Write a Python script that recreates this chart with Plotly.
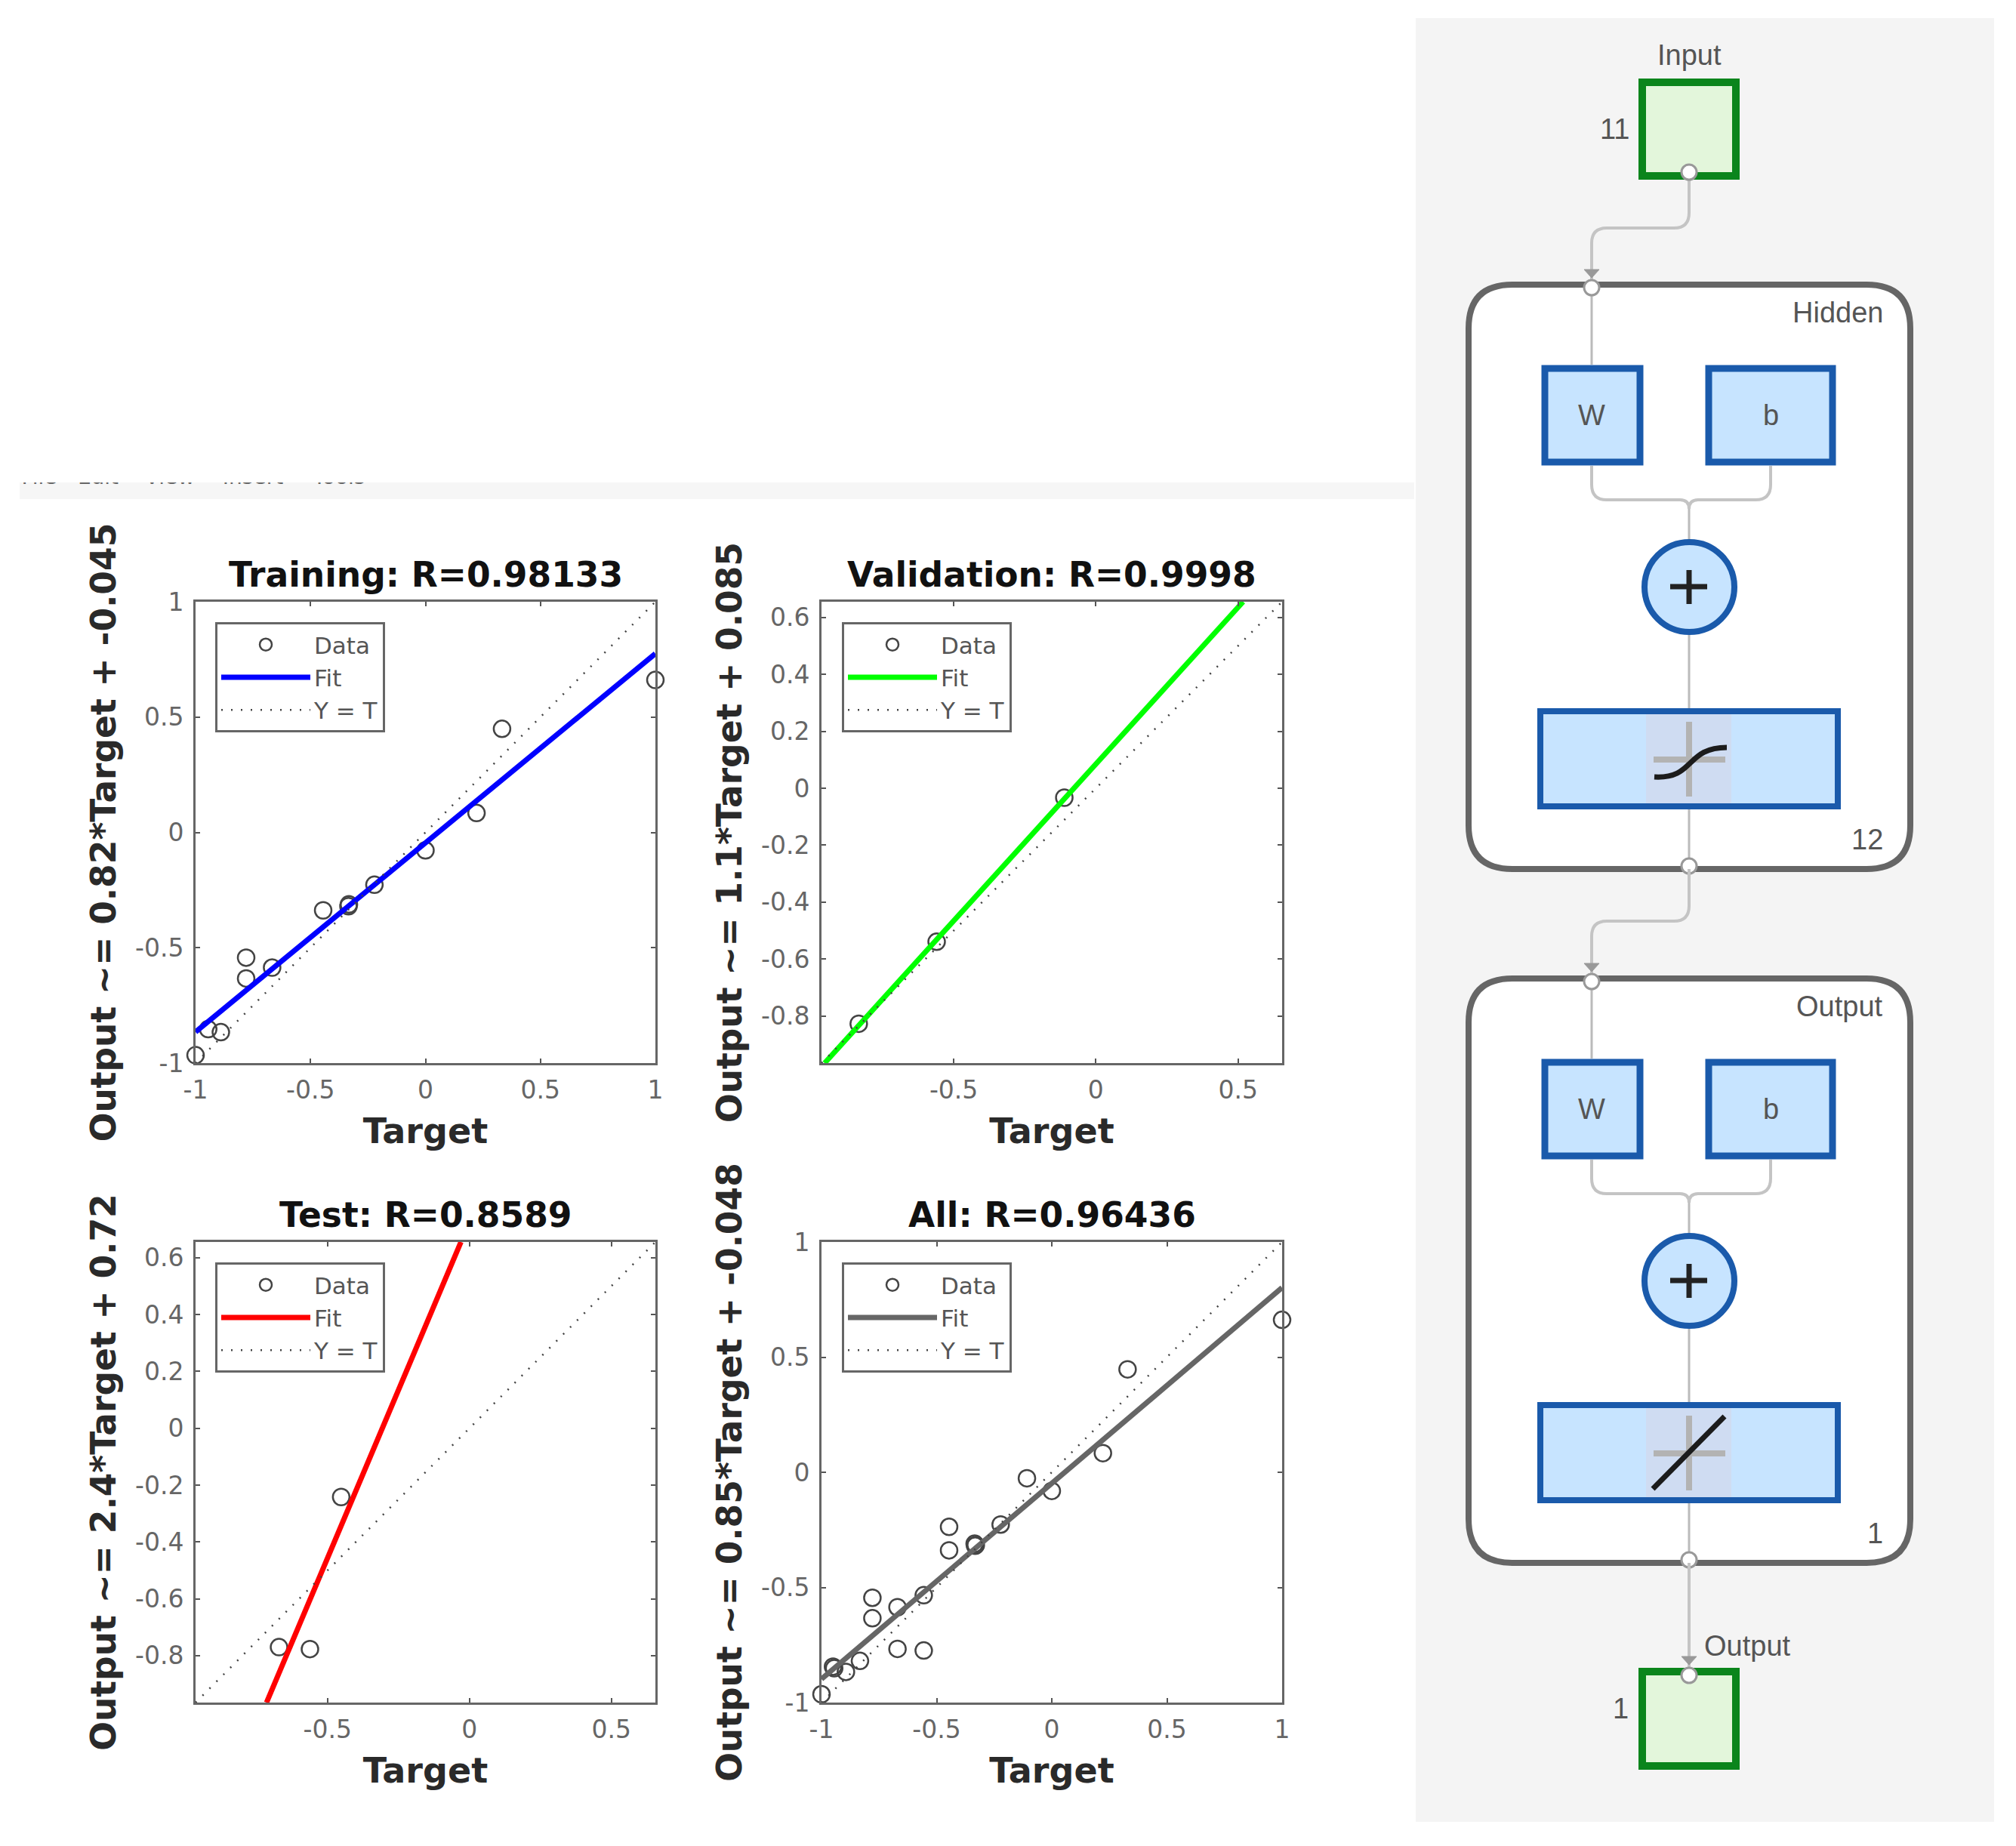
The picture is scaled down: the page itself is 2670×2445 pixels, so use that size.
"""Regression plots next to the network diagram, drawn on one Plotly page."""

import plotly.graph_objects as go

WIDTH, HEIGHT = 2670, 2445

AXIS_FONT = "DejaVu Sans"
DIAGRAM_FONT = "Liberation Sans"

# regression panels
titles = ["Training: R=0.98133", "Validation: R=0.9998", "Test: R=0.8589", "All: R=0.96436"]
y_titles = [
    "Output ~= 0.82*Target + -0.045",
    "Output ~= 1.1*Target + 0.085",
    "Output ~= 2.4*Target + 0.72",
    "Output ~= 0.85*Target + -0.048",
]
fit_colors = ["#0000ff", "#00ff00", "#ff0000", "#666666"]

train_x = [-1, -0.945, -0.89, -0.78, -0.78, -0.667, -0.445, -0.335, -0.333, -0.222, 0, 0.222, 0.333, 1]
train_y = [-0.966, -0.853, -0.866, -0.543, -0.633, -0.586, -0.338, -0.32, -0.312, -0.227, -0.078, 0.084, 0.449, 0.661]
train_fit_x = [-1, 1]
train_fit_y = [-0.865, 0.775]

val_x = [-0.834, -0.56, -0.111]
val_y = [-0.827, -0.539, -0.033]
val_fit_x = [-0.954, 0.518]
val_fit_y = [-0.965, 0.655]

test_x = [-0.671, -0.562, -0.452]
test_y = [-0.77, -0.777, -0.242]
test_fit_x = [-0.715, -0.03]
test_fit_y = [-0.965, 0.655]

all_x = [-1, -0.95, -0.945, -0.894, -0.833, -0.779, -0.779, -0.67, -0.67, -0.556, -0.556,
         -0.446, -0.446, -0.335, -0.333, -0.33, -0.222, -0.108, 0, 0.222, 0.329, 1]
all_y = [-0.964, -0.844, -0.851, -0.867, -0.819, -0.545, -0.634, -0.586, -0.767, -0.534, -0.774,
         -0.237, -0.339, -0.31, -0.319, -0.316, -0.227, -0.026, -0.081, 0.083, 0.447, 0.662]
all_fit_x = [-1, 1]
all_fit_y = [-0.898, 0.802]

full_range = [-1, 1]
part_range = [-0.965, 0.655]

wide_ticks = [-1, -0.5, 0, 0.5, 1]
wide_labels = ["-1", "-0.5", "0", "0.5", "1"]
part_x_ticks = [-0.5, 0, 0.5]
part_x_labels = ["-0.5", "0", "0.5"]
part_y_ticks = [-0.8, -0.6, -0.4, -0.2, 0, 0.2, 0.4, 0.6]
part_y_labels = ["-0.8", "-0.6", "-0.4", "-0.2", "0", "0.2", "0.4", "0.6"]

# menu strip, mostly cropped away in the screenshot
menu_items = ["File", "Edit", "View", "Insert", "Tools"]
menu_x = [52, 130, 225, 335, 449]

panels = [
    (train_x, train_y, train_fit_x, train_fit_y, full_range, wide_ticks, wide_labels, wide_ticks, wide_labels),
    (val_x, val_y, val_fit_x, val_fit_y, part_range, part_x_ticks, part_x_labels, part_y_ticks, part_y_labels),
    (test_x, test_y, test_fit_x, test_fit_y, part_range, part_x_ticks, part_x_labels, part_y_ticks, part_y_labels),
    (all_x, all_y, all_fit_x, all_fit_y, full_range, wide_ticks, wide_labels, wide_ticks, wide_labels),
]
# left, right, top, bottom in page pixels
boxes = [(259, 868, 797, 1408), (1088, 1698, 797, 1408), (259, 868, 1645, 2255), (1088, 1698, 1645, 2255)]
legend_corners = [(285, 824), (1115, 824), (285, 1672), (1115, 1672)]


def page_x(px):
    return px / WIDTH


def page_y(px):
    return 1 - px / HEIGHT


fig = go.Figure()
layout = {}

for i, (panel, box, corner) in enumerate(zip(panels, boxes, legend_corners)):
    xs, ys, fit_x, fit_y, rng, x_ticks, x_labels, y_ticks, y_labels = panel
    n = "" if i == 0 else str(i + 1)
    left, right, top, bottom = box
    group = "legend" + n

    fig.add_trace(go.Scatter(
        x=xs, y=ys, name="Data", mode="markers", xaxis="x" + n, yaxis="y" + n, legend=group,
        cliponaxis=False,
        marker=dict(symbol="circle-open", size=22, color="#444444", line=dict(color="#444444", width=2.5)),
    ))
    fig.add_trace(go.Scatter(
        x=fit_x, y=fit_y, name="Fit", mode="lines", xaxis="x" + n, yaxis="y" + n, legend=group,
        line=dict(color=fit_colors[i], width=7),
    ))
    fig.add_trace(go.Scatter(
        x=rng, y=rng, name="Y = T", mode="lines", xaxis="x" + n, yaxis="y" + n, legend=group,
        line=dict(color="#444444", width=2.5, dash="2px,11px"),
    ))

    common = dict(
        range=rng, showgrid=False, zeroline=False, showline=True, linecolor="#666666", linewidth=3,
        mirror="allticks", ticks="inside", ticklen=6, tickcolor="#555555", tickwidth=2,
        tickmode="array", automargin=False,
        tickfont=dict(family=AXIS_FONT, size=33, color="#666666"),
    )
    layout["xaxis" + n] = dict(
        common, domain=[page_x(left), page_x(right)], anchor="y" + n,
        tickvals=x_ticks, ticktext=x_labels, ticklabelstandoff=4,
        title=dict(text="Target", standoff=21, font=dict(family=AXIS_FONT, size=46, color="#2a2a2a", weight="bold")),
    )
    layout["yaxis" + n] = dict(
        common, domain=[page_y(bottom), page_y(top)], anchor="x" + n,
        tickvals=y_ticks, ticktext=y_labels, ticklabelstandoff=6,
        title=dict(text=y_titles[i], standoff=12, font=dict(family=AXIS_FONT, size=45.5, color="#2a2a2a", weight="bold")),
    )
    layout[group] = dict(
        x=page_x(corner[0]), y=page_y(corner[1]), xanchor="left", yanchor="top",
        bgcolor="white", bordercolor="#666666", borderwidth=3,
        itemwidth=118, itemclick=False, traceorder="normal",
        entrywidth=103, entrywidthmode="pixels",
        font=dict(family=AXIS_FONT, size=31, color="#555555"),
    )

# page sized axes for the diagram, and a clipped strip for the menu text
layout["xaxis5"] = dict(domain=[0, 1], range=[0, WIDTH], visible=False, anchor="y5")
layout["yaxis5"] = dict(domain=[0, 1], range=[HEIGHT, 0], visible=False, anchor="x5")
layout["xaxis6"] = dict(domain=[page_x(26), page_x(1873)], range=[26, 1873], visible=False, anchor="y6")
layout["yaxis6"] = dict(domain=[page_y(661), page_y(639)], range=[661, 639], visible=False, anchor="x6")

fig.add_trace(go.Scatter(
    x=menu_x, y=[634] * len(menu_items), text=menu_items, mode="text", xaxis="x6", yaxis="y6",
    showlegend=False, textposition="middle center",
    textfont=dict(family=AXIS_FONT, size=28, color="#666666"),
))

shapes = []
annotations = []

GREEN, GREEN_FILL = "#0b851c", "#e3f6db"
BLUE, BLUE_FILL = "#1a5aab", "#c7e4ff"
WIRE = "#c4c4c4"
IN_X, MID_X = 2108, 2237


def add_shape(kind, x0, y0, x1, y1, line_color, line_width, fill=None, layer="above"):
    shapes.append(dict(
        type=kind, xref="x5", yref="y5", x0=x0, y0=y0, x1=x1, y1=y1, layer=layer,
        line=dict(color=line_color, width=line_width), fillcolor=fill,
    ))


def add_path(path, line_color, line_width, fill=None):
    shapes.append(dict(
        type="path", xref="x5", yref="y5", path=path,
        line=dict(color=line_color, width=line_width), fillcolor=fill,
    ))


def add_text(text, x, y, anchor="center"):
    annotations.append(dict(
        text=text, xref="x5", yref="y5", x=x, y=y, xanchor=anchor, yanchor="middle", showarrow=False,
        font=dict(family=DIAGRAM_FONT, size=38, color="#555555"),
    ))


def add_port(x, y):
    add_shape("circle", x - 10, y - 10, x + 10, y + 10, "#999999", 3, "white")


def add_arrow(x, y):
    add_path(f"M {x - 10} {y} L {x + 10} {y} L {x} {y + 11} Z", "#999999", 1, "#999999")


def add_drop_wire(y_from, y_bend, y_to):
    # from the centre line across to the input column
    add_path(
        f"M {MID_X} {y_from} L {MID_X} {y_bend - 20} Q {MID_X} {y_bend} {MID_X - 20} {y_bend} "
        f"L {IN_X + 20} {y_bend} Q {IN_X} {y_bend} {IN_X} {y_bend + 20} L {IN_X} {y_to}",
        WIRE, 4,
    )


def add_layer(dy, name, size):
    # rounded layer frame
    l, r, t, b, c = 1945, 2530, 377 + dy, 1151 + dy, 58
    add_path(
        f"M {l + c} {t} L {r - c} {t} Q {r} {t} {r} {t + c} L {r} {b - c} Q {r} {b} {r - c} {b} "
        f"L {l + c} {b} Q {l} {b} {l} {b - c} L {l} {t + c} Q {l} {t} {l + c} {t} Z",
        "#666666", 8, "white",
    )
    add_text(name, 2496, 414 + dy, "right")
    add_text(size, 2496, 1112 + dy, "right")

    # inner wiring
    add_shape("line", IN_X, 381 + dy, IN_X, 483 + dy, "#bbbbbb", 3)
    add_path(
        f"M {IN_X} {617 + dy} L {IN_X} {642 + dy} Q {IN_X} {662 + dy} {IN_X + 20} {662 + dy} "
        f"L {MID_X - 12} {662 + dy} Q {MID_X} {662 + dy} {MID_X} {674 + dy}",
        WIRE, 4,
    )
    add_path(
        f"M 2345 {617 + dy} L 2345 {642 + dy} Q 2345 {662 + dy} 2325 {662 + dy} "
        f"L {MID_X + 12} {662 + dy} Q {MID_X} {662 + dy} {MID_X} {674 + dy}",
        WIRE, 4,
    )
    add_shape("line", MID_X, 674 + dy, MID_X, 716 + dy, "#bbbbbb", 3)
    add_shape("line", MID_X, 839 + dy, MID_X, 938 + dy, "#bbbbbb", 3)
    add_shape("line", MID_X, 1072 + dy, MID_X, 1147 + dy, "#bbbbbb", 3)

    # weight and bias blocks
    add_shape("rect", 2046, 488 + dy, 2172, 612 + dy, BLUE, 9, BLUE_FILL)
    add_shape("rect", 2263, 488 + dy, 2427, 612 + dy, BLUE, 9, BLUE_FILL)
    add_text("W", IN_X, 550 + dy)
    add_text("b", 2345, 550 + dy)

    # summing junction
    add_shape("circle", 2178, 718 + dy, 2297, 837 + dy, BLUE, 8, BLUE_FILL)
    add_shape("line", 2212, 777 + dy, 2261, 777 + dy, "#222222", 7)
    add_shape("line", MID_X, 755 + dy, MID_X, 800 + dy, "#222222", 7)

    # transfer function block
    add_shape("rect", 2040, 942 + dy, 2434, 1068 + dy, BLUE, 8, BLUE_FILL)
    add_shape("rect", 2180, 946 + dy, 2293, 1064 + dy, "rgba(0,0,0,0)", 0, "#cfdcf2")
    add_shape("line", MID_X, 956 + dy, MID_X, 1055 + dy, "#b3b3b3", 8)
    add_shape("line", 2190, 1006 + dy, 2285, 1006 + dy, "#b3b3b3", 8)

    add_port(IN_X, 381 + dy)
    add_port(MID_X, 1147 + dy)
    add_arrow(IN_X, 357 + dy)


# panel behind the diagram and the window strip
add_shape("rect", 1875, 24, 2641, 2413, "rgba(0,0,0,0)", 0, "#f4f4f4")
add_shape("rect", 26, 639, 1873, 661, "rgba(0,0,0,0)", 0, "#f6f6f6", layer="below")

# input
add_drop_wire(238, 302, 372)
add_shape("rect", 2175, 109, 2299, 233, GREEN, 10, GREEN_FILL)
add_port(MID_X, 228)
add_text("Input", MID_X, 73)
add_text("11", 2160, 171, "right")

# layers
add_layer(0, "Hidden", "12")
add_path("M 2191 1029 C 2245 1032 2232 990 2287 990", "#1c1c1c", 7)
add_drop_wire(1151, 1220, 1291)
add_layer(919, "Output", "1")
add_shape("line", 2189, 1972, 2284, 1876, "#1c1c1c", 7)

# output
add_shape("line", MID_X, 2070, MID_X, 2210, WIRE, 4)
add_shape("rect", 2175, 2214, 2299, 2339, GREEN, 10, GREEN_FILL)
add_arrow(MID_X, 2194)
add_port(MID_X, 2219)
add_text("Output", 2255, 2180, "left")
add_text("1", 2159, 2263, "right")

# panel titles sit above each axes box
for title, box in zip(titles, boxes):
    annotations.append(dict(
        text=title, xref="paper", yref="paper", x=page_x((box[0] + box[1]) / 2), y=page_y(box[2] - 36),
        xanchor="center", yanchor="middle", showarrow=False,
        font=dict(family=AXIS_FONT, size=45.5, color="#111111", weight="bold"),
    ))

fig.update_layout(
    width=WIDTH, height=HEIGHT, margin=dict(l=0, r=0, t=0, b=0),
    paper_bgcolor="white", plot_bgcolor="rgba(0,0,0,0)",
    shapes=shapes, annotations=annotations, **layout,
)

fig.write_html("out.html", config=dict(displayModeBar=False), post_script="document.body.style.margin='0';")
